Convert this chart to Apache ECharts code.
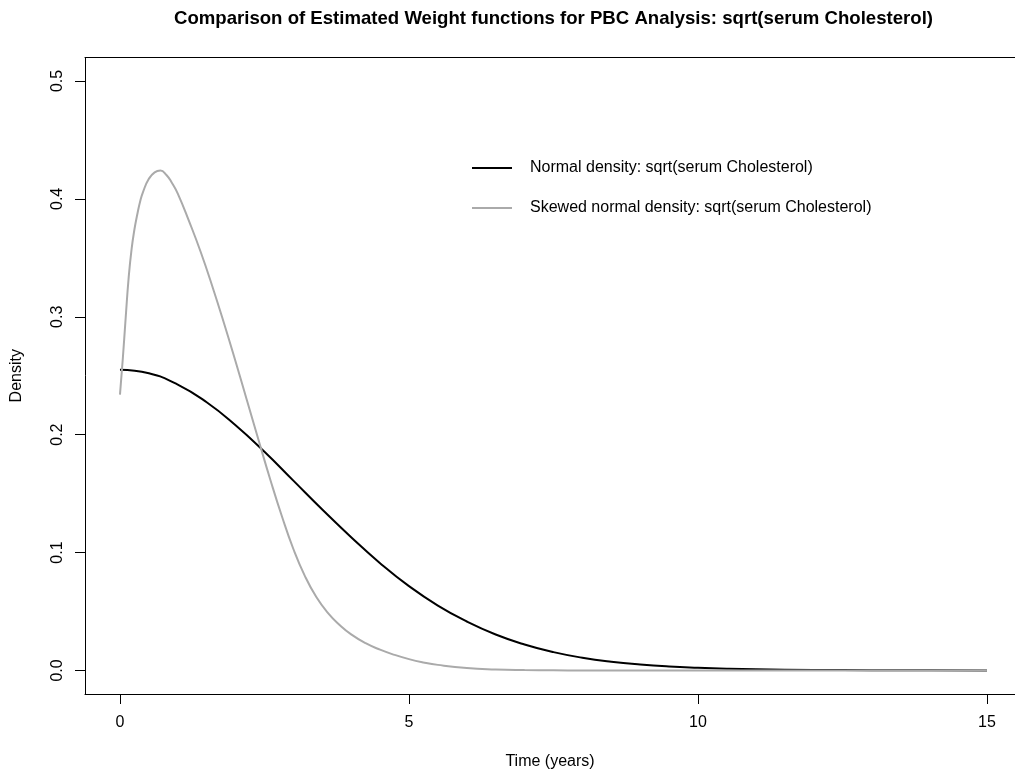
<!DOCTYPE html>
<html>
<head>
<meta charset="utf-8">
<script src="https://cdn.jsdelivr.net/npm/echarts@6/dist/echarts.min.js"></script>
<style>
html,body{margin:0;padding:0;background:#fff;}
#chart{width:1015px;height:775px;}
</style>
</head>
<body>
<div id="chart"></div>
<script>
const titleText = 'Comparison of Estimated Weight functions for PBC Analysis: sqrt(serum Cholesterol)';
const xTicks = [0, 5, 10, 15];
const yTicks = [0, 0.1, 0.2, 0.3, 0.4, 0.5];
const seriesNames = ['Normal density: sqrt(serum Cholesterol)', 'Skewed normal density: sqrt(serum Cholesterol)'];

const normalTime = [0, 0.5, 1, 1.5, 2, 2.5, 3, 3.5, 4, 4.5, 5, 5.5, 6, 6.5, 7, 7.5, 8, 8.5, 9, 9.5, 10, 10.5, 11, 12, 13, 14, 15];
const normalDensity = [0.255, 0.252, 0.2425, 0.2275, 0.208, 0.1855, 0.161, 0.1365, 0.113, 0.091, 0.0715, 0.055, 0.0415, 0.0305, 0.022, 0.0155, 0.0108, 0.0074, 0.005, 0.0033, 0.0022, 0.0014, 0.0009, 0.0004, 0.0002, 0.0001, 0];

const skewTime = [0, 0.05, 0.1, 0.15, 0.2, 0.25, 0.3, 0.35, 0.4, 0.5, 0.6, 0.7, 0.8, 0.9, 1.0, 1.2, 1.4, 1.6, 1.8, 2.0, 2.2, 2.4, 2.6, 2.8, 3.0, 3.2, 3.4, 3.6, 3.8, 4.0, 4.25, 4.5, 4.75, 5.0, 5.25, 5.5, 6.0, 6.5, 7.0, 7.5, 8.0, 10.0, 15.0];
const skewDensity = [0.234, 0.265, 0.300, 0.333, 0.357, 0.374, 0.387, 0.398, 0.406, 0.417, 0.4225, 0.424, 0.4205, 0.4135, 0.4045, 0.3805, 0.3545, 0.3255, 0.2945, 0.262, 0.2286, 0.195, 0.162, 0.131, 0.103, 0.080, 0.062, 0.0486, 0.0386, 0.0306, 0.0231, 0.0176, 0.0132, 0.0096, 0.0068, 0.0047, 0.002, 0.0008, 0.0003, 0.0001, 0, 0, 0];

const pairs = (xs, ys) => xs.map((x, i) => [x, ys[i]]);
const FONT = '"Liberation Sans", Arial, Helvetica, sans-serif';
const black = '#000000';

const chart = echarts.init(document.getElementById('chart'), null, {renderer: 'canvas'});
chart.setOption({
  animation: false,
  backgroundColor: '#ffffff',
  textStyle: {fontFamily: FONT},
  title: {
    text: titleText,
    left: 553.5,
    top: 9,
    padding: 0,
    textAlign: 'center',
    textStyle: {fontFamily: FONT, fontSize: 18.6, fontWeight: 'bold', color: black}
  },
  legend: {
    orient: 'vertical',
    left: 472,
    top: 160,
    padding: 0,
    itemWidth: 40,
    itemHeight: 2,
    itemGap: 24,
    icon: 'rect',
    data: seriesNames,
    textStyle: {fontFamily: FONT, fontSize: 16, color: black, padding: [0, 0, 0, 13]}
  },
  grid: {
    left: 85, top: 57.4, width: 930, height: 638.4,
    show: false,
    containLabel: false
  },
  xAxis: [{
    type: 'value',
    min: -0.605, max: 15.485,
    name: 'Time (years)',
    nameLocation: 'middle',
    nameGap: 60,
    nameTextStyle: {fontFamily: FONT, fontSize: 16, color: black},
    axisLine: {show: true, onZero: false, lineStyle: {color: black, width: 1}},
    axisTick: {show: true, inside: false, length: 10, customValues: xTicks, lineStyle: {color: black, width: 1}},
    axisLabel: {show: true, margin: 21, customValues: xTicks, fontFamily: FONT, fontSize: 16, color: black, formatter: v => String(v)},
    splitLine: {show: false}
  }, {
    type: 'value',
    position: 'top',
    min: -0.605, max: 15.485,
    axisLine: {show: true, onZero: false, lineStyle: {color: black, width: 1}},
    axisTick: {show: false},
    axisLabel: {show: false},
    splitLine: {show: false}
  }],
  yAxis: {
    type: 'value',
    min: -0.02, max: 0.52,
    name: 'Density',
    nameLocation: 'middle',
    nameRotate: 90,
    nameGap: 60,
    nameTextStyle: {fontFamily: FONT, fontSize: 16, color: black},
    axisLine: {show: true, onZero: false, lineStyle: {color: black, width: 1}},
    axisTick: {show: true, inside: false, length: 10, customValues: yTicks, lineStyle: {color: black, width: 1}},
    axisLabel: {show: true, margin: 19, rotate: 90, customValues: yTicks, fontFamily: FONT, fontSize: 16, color: black, formatter: v => v.toFixed(1)},
    splitLine: {show: false}
  },
  series: [
    {
      name: seriesNames[0],
      type: 'line',
      data: pairs(normalTime, normalDensity),
      smooth: true,
      symbol: 'none',
      lineStyle: {color: black, width: 2},
      itemStyle: {color: black}
    },
    {
      name: seriesNames[1],
      type: 'line',
      data: pairs(skewTime, skewDensity),
      smooth: true,
      symbol: 'none',
      lineStyle: {color: '#aaaaaa', width: 2},
      itemStyle: {color: '#aaaaaa'}
    }
  ]
});
</script>
</body>
</html>
